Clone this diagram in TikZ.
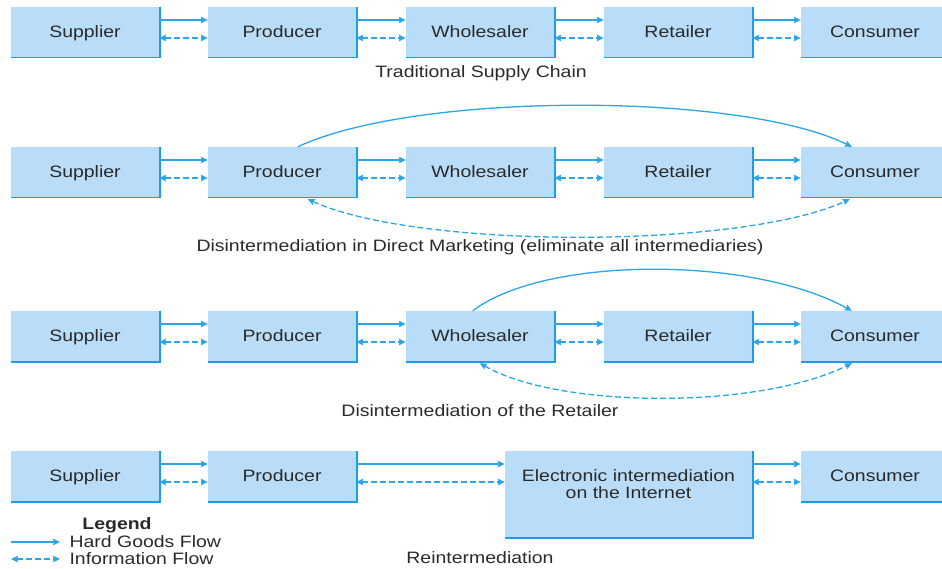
\documentclass[tikz,border=0pt]{standalone}
\usepackage{fontspec}
\setmainfont{Liberation Sans}[FakeStretch=1.18]
\usetikzlibrary{arrows.meta}

\definecolor{boxfill}{HTML}{B9DDF8}
\definecolor{boxedge}{HTML}{1A9FE6}
\definecolor{flow}{HTML}{2AA6E8}
\definecolor{ink}{HTML}{2A2A2A}

\newcommand{\chainfont}{\fontsize{16.5}{17}\selectfont}

\tikzset{
  stage/.style={fill=boxfill, minimum width=148pt, minimum height=50pt,
    inner sep=0pt, text=ink, font=\chainfont, text height=12pt, text depth=0.2pt,
    append after command={\pgfextra{\let\stagenode\tikzlastnode
      \draw[boxedge, line width=2.6pt] (\stagenode.north east) -- (\stagenode.south east) -- (\stagenode.south west);}}},
  tip/.tip={Stealth[length=7pt,width=6.5pt,inset=1pt]},
  goods/.style={flow, line width=1.3pt, -tip},
  info/.style={flow, line width=1.3pt, dash pattern=on 6pt off 3pt, tip-tip},
  caption/.style={text=ink, font=\chainfont, anchor=base},
}

\begin{document}
\begin{tikzpicture}[x=1pt, y=-1pt]
\useasboundingbox (0,0) rectangle (942,569);

% three five-stage chains
\foreach \r/\y in {1/32, 2/172, 3/336} {
  \node[stage] (sup\r) at (85,\y)  {Supplier};
  \node[stage] (pro\r) at (282,\y) {Producer};
  \node[stage] (who\r) at (480,\y) {Wholesaler};
  \node[stage] (ret\r) at (678,\y) {Retailer};
  \node[stage] (con\r) at (875,\y) {Consumer};
  \foreach \a/\b in {sup/pro, pro/who, who/ret, ret/con} {
    \draw[goods] ([yshift=12pt]\a\r.east) -- ([yshift=12pt]\b\r.west);
    \draw[info]  ([yshift=-6pt]\a\r.east) -- ([yshift=-6pt]\b\r.west);
  }
}

% reintermediation chain
\node[stage] (sup4) at (85,476)  {Supplier};
\node[stage] (pro4) at (282,476) {Producer};
\node[stage, minimum width=247pt, minimum height=86pt] (ei) at (628.5,494) {};
\node[text=ink, font=\chainfont, align=center, anchor=base] (eitext) at (628.5,498)
  {Electronic intermediation\\on the Internet};
\node[stage] (con4) at (875,476) {Consumer};
\draw[goods] ([yshift=12pt]sup4.east) -- ([yshift=12pt]pro4.west);
\draw[info]  ([yshift=-6pt]sup4.east) -- ([yshift=-6pt]pro4.west);
\draw[goods] ([yshift=12pt]pro4.east) -- ([yshift=12pt]pro4.east -| ei.west);
\draw[info]  ([yshift=-6pt]pro4.east) -- ([yshift=-6pt]pro4.east -| ei.west);
\draw[goods] ([yshift=12pt]ei.east |- con4.west) -- ([yshift=12pt]con4.west);
\draw[info]  ([yshift=-6pt]ei.east |- con4.west) -- ([yshift=-6pt]con4.west);

% bypass arcs
\draw[goods] ([xshift=90pt]pro2.north west) .. controls +(117,-55) and +(-112,-55) .. ([xshift=51pt]con2.north west);
\draw[info] ([xshift=100pt,yshift=-2pt]pro2.south west) .. controls +(110,50) and +(-110,50) .. ([xshift=49pt,yshift=-2pt]con2.south west);
\draw[goods] ([xshift=67pt]who3.north west) .. controls +(72,-55) and +(-100,-55) .. ([xshift=51pt]con3.north west);
\draw[info] ([xshift=74pt,yshift=-2pt]who3.south west) .. controls +(80,46) and +(-92,46) .. ([xshift=51pt,yshift=-2pt]con3.south west);

% captions
\node[caption] (cap1) at (481,78)  {Traditional Supply Chain};
\node[caption] (cap2) at (480,252) {Disintermediation in Direct Marketing (eliminate all intermediaries)};
\node[caption] (cap3) at (480,416) {Disintermediation of the Retailer};
\node[caption] (cap4) at (480,563) {Reintermediation};

% legend
\node[caption, font=\chainfont\bfseries] (leg) at (117,529) {Legend};
\coordinate (hgA) at (11,542);
\coordinate (hgB) at (60,542);
\coordinate (ifA) at (11,559);
\coordinate (ifB) at (60,559);
\draw[goods] (hgA) -- (hgB);
\draw[info] (ifA) -- (ifB);
\node[text=ink, font=\chainfont, anchor=west] (hgtext) at (66,542) {Hard Goods Flow};
\node[text=ink, font=\chainfont, anchor=west] (iftext) at (66,559) {Information Flow};
\end{tikzpicture}
\end{document}
